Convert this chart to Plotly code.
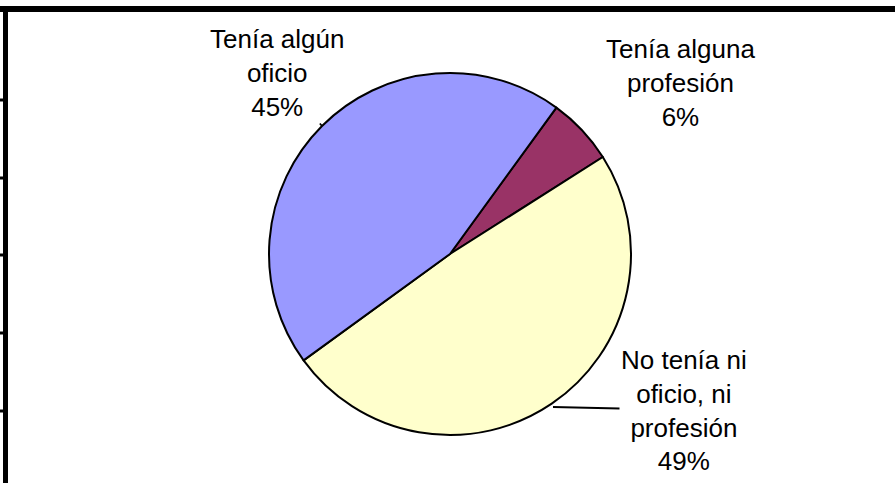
import plotly.graph_objects as go

# Datos del gráfico
categorias = ['Tenía alguna profesión', 'No tenía ni oficio, ni profesión', 'Tenía algún oficio']
etiquetas = ['Tenía alguna<br>profesión', 'No tenía ni<br>oficio, ni<br>profesión', 'Tenía algún<br>oficio']
porcentajes = [6, 49, 45]
colores = ['#993366', '#FFFFCC', '#9999FF']

W, H = 895, 483


def px(x, y):
    """Convierte píxeles de la imagen a coordenadas 'paper'."""
    return x / W, 1 - y / H


fig = go.Figure(go.Pie(
    labels=categorias,
    values=porcentajes,
    marker=dict(colors=colores, line=dict(color='black', width=2)),
    sort=False,
    direction='clockwise',
    rotation=36,
    textinfo='none',
    hoverinfo='label+percent',
    showlegend=False,
    domain=dict(x=[269 / W, 631 / W], y=[1 - 435 / H, 1 - 73 / H]),
))

# Posición del texto y punto de la línea guía (píxeles)
pos_texto = [(680, 83), (684, 410), (277, 73)]
punta = [None, (553, 407), (322, 126)]

anotaciones = []
for txt, val, (tx, ty), p in zip(etiquetas, porcentajes, pos_texto, punta):
    texto = f'{txt}<br>{val}%'
    if p is None:
        x, y = px(tx, ty)
        anotaciones.append(dict(x=x, y=y, xref='paper', yref='paper', text=texto,
                                xanchor='center', yanchor='middle',
                                showarrow=False, align='center'))
    else:
        x, y = px(*p)
        anotaciones.append(dict(x=x, y=y, xref='paper', yref='paper', text=texto,
                                showarrow=True, arrowhead=0, arrowwidth=1.8, arrowcolor='black',
                                ax=tx - p[0], ay=ty - p[1], align='center'))

# Bordes negros (arriba e izquierda) y marcas de la izquierda
formas = [
    dict(type='line', xref='paper', yref='paper', x0=0, x1=1, y0=1 - 9 / H, y1=1 - 9 / H,
         line=dict(color='black', width=6)),
    dict(type='line', xref='paper', yref='paper', x0=5.5 / W, x1=5.5 / W, y0=0, y1=1 - 6 / H,
         line=dict(color='black', width=5)),
]
for yt in [100, 178, 255, 333, 411]:
    formas.append(dict(type='line', xref='paper', yref='paper', x0=0, x1=8 / W,
                       y0=1 - yt / H, y1=1 - yt / H, line=dict(color='black', width=3)))

fig.update_layout(
    width=W,
    height=H,
    margin=dict(l=0, r=0, t=0, b=0),
    paper_bgcolor='white',
    plot_bgcolor='white',
    font=dict(family='Liberation Sans, Arial, sans-serif', size=26, color='black'),
    annotations=anotaciones,
    shapes=formas,
)

# Sin margen del body para que la figura ocupe toda la ventana
fig.write_html('out.html', config={'displayModeBar': False},
               post_script="document.body.style.margin='0px';")
